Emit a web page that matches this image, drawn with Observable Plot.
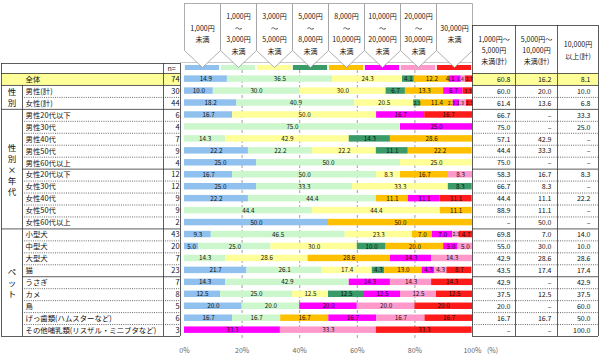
<!DOCTYPE html>
<html><head><meta charset="utf-8">
<script src="https://cdn.jsdelivr.net/npm/d3@7"></script>
<script src="https://cdn.jsdelivr.net/npm/@observablehq/plot@0.6"></script>
<style>
html,body{margin:0;padding:0;background:#fff;}
#chart{width:600px;height:363px;overflow:hidden;}
</style></head><body><div id="chart"></div>
<script>
// ---------- data ----------
const rows = ["全体","男性(計)","女性(計)","男性20代以下","男性30代","男性40代","男性50代","男性60代以上","女性20代以下","女性30代","女性40代","女性50代","女性60代以上","小型犬","中型犬","大型犬","猫","うさぎ","カメ","鳥","げっ歯類(ハムスターなど)","その他哺乳類(リスザル・ミニブタなど)"];
const nValues = [74,30,44,6,4,7,9,4,12,12,9,9,2,43,20,7,23,7,8,5,6,3];
const categories = ["1,000円未満","1,000円～3,000円未満","3,000円～5,000円未満","5,000円～8,000円未満","8,000円～10,000円未満","10,000円～20,000円未満","20,000円～30,000円未満","30,000円以上"];
const headerLabels = ["1,000円\n未満","1,000円\n～\n3,000円\n未満","3,000円\n～\n5,000円\n未満","5,000円\n～\n8,000円\n未満","8,000円\n～\n10,000円\n未満","10,000円\n～\n20,000円\n未満","20,000円\n～\n30,000円\n未満","30,000円\n未満"];
const colors = ["#8fc0ee","#ccf7cc","#ffff99","#3a9a68","#ffc000","#ff00ff","#ff99cc","#ff1a1a"];
const s0 = [14.9,10.0,18.2,16.7,0,0,22.2,25.0,16.7,25.0,22.2,0,50.0,9.3,5.0,0,21.7,14.3,12.5,20.0,16.7,0];
const s1 = [36.5,30.0,40.9,0,75.0,14.3,22.2,50.0,50.0,33.3,44.4,44.4,0,46.5,25.0,14.3,26.1,42.9,25.0,20.0,16.7,0];
const s2 = [24.3,30.0,20.5,50.0,0,42.9,22.2,25.0,8.3,33.3,0,44.4,0,23.3,30.0,28.6,17.4,0,12.5,0,0,0];
const s3 = [4.1,6.7,2.3,0,0,14.3,11.1,0,0,8.3,0,0,0,0,10.0,0,4.3,0,12.5,0,0,0];
const s4 = [12.2,13.3,11.4,0,0,28.6,22.2,0,16.7,0,11.1,11.1,50.0,7.0,20.0,28.6,13.0,0,0,0,16.7,0];
const s5 = [4.1,6.7,2.3,16.7,25.0,0,0,0,0,0,11.1,0,0,7.0,5.0,14.3,4.3,14.3,12.5,20.0,16.7,33.3];
const s6 = [1.4,0,2.3,0,0,0,0,0,8.3,0,0,0,0,2.3,5.0,14.3,4.3,14.3,12.5,20.0,16.7,33.3];
const s7 = [2.7,3.3,2.3,16.7,0,0,0,0,0,0,11.1,0,0,4.7,0,0,8.7,14.3,12.5,20.0,16.7,33.3];
const sumHeaders = ["1,000円～\n5,000円\n未満(計)","5,000円～\n10,000円\n未満(計)","10,000円\n以上(計)"];
const sum1 = [60.8,60.0,61.4,66.7,75.0,57.1,44.4,75.0,58.3,66.7,44.4,88.9,null,69.8,55.0,42.9,43.5,42.9,37.5,20.0,16.7,null];
const sum2 = [16.2,20.0,13.6,null,null,42.9,33.3,null,16.7,8.3,11.1,11.1,50.0,7.0,30.0,28.6,17.4,null,12.5,null,16.7,null];
const sum3 = [8.1,10.0,6.8,33.3,25.0,null,null,null,8.3,null,22.2,null,null,14.0,10.0,28.6,17.4,42.9,37.5,60.0,50.0,100.0];
const groupLabels = ["性別","性別×年代","ペット"];
const groupFrom = [1,3,13];
const groupTo = [3,13,22];
const axisTicks = [0,20,40,60,80,100];

// ---------- layout ----------
const W = 600, H = 363;
const X0 = 184, X1 = 472, Y0 = 73, Y1 = 336;
const NR = rows.length;
const STEP = (Y1 - Y0) / NR;
const KX = (X1 - X0) / 100;
const px = p => (p - X0) / KX;
const py = p => (p - Y0) / STEP;
const FONT = "'Noto Sans CJK JP', 'Noto Sans', sans-serif";

const series = [s0,s1,s2,s3,s4,s5,s6,s7];
const segs = [];
rows.forEach((r, i) => {
  let acc = 0;
  series.forEach((s, k) => {
    const v = s[i];
    if (v > 0) segs.push({i, cat: categories[k], v, x1: acc, x2: acc + v});
    acc += v;
  });
});

// label sizing + simple dodge so crowded labels don't collide
const CW = 0.56, FS = 6.3, FSS = 5;
segs.forEach(d => {
  d.t = d.v.toFixed(1);
  const segPx = (d.x2 - d.x1) * KX;
  d.fs = segPx < d.t.length * CW * FS ? FSS : FS;
  d.w = d.t.length * CW * d.fs;
  d.cx = X0 + (d.x1 + d.x2) / 2 * KX;
});
d3.groups(segs, d => d.i).forEach(([i, g]) => {
  for (let k = 1; k < g.length; k++) {
    const min = g[k - 1].cx + (g[k - 1].w + g[k].w) / 2 + 0.6;
    if (g[k].cx < min) g[k].cx = min;
  }
  const last = g[g.length - 1];
  const maxR = X1 + 1 - last.w / 2;
  if (last.cx > maxR) last.cx = maxR;
  for (let k = g.length - 2; k >= 0; k--) {
    const max = g[k + 1].cx - (g[k].w + g[k + 1].w) / 2 - 0.6;
    if (g[k].cx > max) g[k].cx = max;
  }
});

const arrowPts = categories.flatMap((c, k) => {
  const a = k * 12.5, b = a + 12.5, m = a + 6.25;
  return [[a, py(3)], [a, py(50)], [m, py(67)], [b, py(50)], [b, py(3)], [a, py(3)]]
    .map(([x, y]) => ({c, x, y}));
});

const bounds = d3.range(0, NR + 1);
const solidB = [0,1,3,8,13,17,22];
const fullB = [0,1,3,13,22];
const dash = "1,1.2";

const plot = Plot.plot({
  width: W, height: H,
  style: {fontFamily: FONT, background: "#fff", overflow: "visible"},
  x: {domain: [0, 100], range: [X0, X1], axis: null},
  y: {domain: [0, NR], range: [Y0, Y1], axis: null},
  color: {domain: categories, range: colors},
  marks: [
    // 全体 highlight
    Plot.rect([0], {x1: px(1), x2: px(180), y1: 0, y2: 1, fill: "#ffff99"}),
    Plot.rect([0], {x1: px(472), x2: px(598), y1: 0, y2: 1, fill: "#ffff99"}),
    // header baseline
    Plot.ruleY([py(62)], {y: d => d, x1: px(180), x2: px(472), stroke: "#bbb", strokeWidth: 0.8}),
    // gridlines
    Plot.ruleX([20,40,60,80], {x: d => d, y1: py(70), y2: py(340), stroke: "#888", strokeWidth: 0.8, strokeDasharray: "3,2"}),
    // swatches
    Plot.rect(categories, {x1: (d, k) => k * 12.5 + 0.3, x2: (d, k) => (k + 1) * 12.5 - 0.3, y1: py(65), y2: py(70), fill: d => d}),
    // arrows
    Plot.line(arrowPts, {x: "x", y: "y", z: "c", fill: "white", stroke: "#999", strokeWidth: 0.8, strokeLinejoin: "miter"}),
    Plot.text(categories, {x: (d, k) => k * 12.5 + 6.25, y: py(32.5), text: (d, k) => headerLabels[k], fontSize: 7, lineHeight: 1.65, fill: "#111"}),
    // bars
    Plot.rect(segs, {x1: "x1", x2: "x2", y1: d => d.i + 0.2, y2: d => d.i + 0.74, fill: "cat"}),
    Plot.text(segs, {x: d => px(d.cx), y: d => d.i + 0.47, text: "t", fontSize: "fs", fill: "#111"}),
    // x axis labels
    Plot.text(axisTicks, {x: d => d, y: py(350), text: d => d + "%", fontSize: 7, fill: "#666"}),
    Plot.text(["(%)"], {x: px(492), y: py(350), text: d => d, fontSize: 7, fill: "#666"}),
    // left table lines
    Plot.ruleY(bounds.filter(b => solidB.includes(b)), {y: d => d, x1: d => px(fullB.includes(d) ? 1 : 22), x2: px(180), stroke: "#333", strokeWidth: 0.8}),
    Plot.ruleY(bounds.filter(b => !solidB.includes(b)), {y: d => d, x1: px(22), x2: px(180), stroke: "#444", strokeWidth: 0.8, strokeDasharray: dash}),
    Plot.ruleY([py(63)], {y: d => d, x1: px(1), x2: px(180), stroke: "#333", strokeWidth: 0.8}),
    Plot.ruleX([1, 163, 180], {x: d => px(d), y1: py(63), y2: NR, stroke: "#333", strokeWidth: 0.8}),
    Plot.ruleX([22], {x: d => px(d), y1: 1, y2: NR, stroke: "#333", strokeWidth: 0.8}),
    // left table text
    Plot.text(["n="], {x: px(171), y: py(68.5), text: d => d, fontSize: 7, fill: "#111"}),
    Plot.text(rows, {x: px(25), y: (d, i) => i + 0.5, text: d => d, textAnchor: "start", fontSize: 7.4, fill: "#111"}),
    Plot.text(nValues, {x: px(179), y: (d, i) => i + 0.5, text: d => String(d), textAnchor: "end", fontSize: 7.4, fill: "#111"}),
    Plot.text(groupLabels, {x: px(11.5), y: (d, g) => (groupFrom[g] + groupTo[g]) / 2, text: d => d.split("").join("\n"), fontSize: 8.5, lineHeight: 1.3, fill: "#111"}),
    // right table lines
    Plot.ruleY(bounds.filter(b => solidB.includes(b)), {y: d => d, x1: px(472), x2: px(598), stroke: "#333", strokeWidth: 0.8}),
    Plot.ruleY(bounds.filter(b => !solidB.includes(b)), {y: d => d, x1: px(472), x2: px(598), stroke: "#444", strokeWidth: 0.8, strokeDasharray: dash}),
    Plot.ruleY([py(25)], {y: d => d, x1: px(472), x2: px(598), stroke: "#333", strokeWidth: 0.8}),
    Plot.ruleX([472, 515, 557, 598], {x: d => px(d), y1: py(25), y2: NR, stroke: "#333", strokeWidth: 0.8}),
    // right table text
    Plot.text(sumHeaders, {x: (d, k) => px([493.5, 536, 577.5][k]), y: py(49), text: d => d, fontSize: 7, lineHeight: 1.6, fill: "#111"}),
    Plot.text(sum1, {x: px(510), y: (d, i) => i + 0.5, text: d => d == null ? "–" : d.toFixed(1), textAnchor: "end", fontSize: 7, fill: "#111"}),
    Plot.text(sum2, {x: px(551), y: (d, i) => i + 0.5, text: d => d == null ? "–" : d.toFixed(1), textAnchor: "end", fontSize: 7, fill: "#111"}),
    Plot.text(sum3, {x: px(590), y: (d, i) => i + 0.5, text: d => d == null ? "–" : d.toFixed(1), textAnchor: "end", fontSize: 7, fill: "#111"})
  ]
});
document.getElementById("chart").appendChild(plot);
</script>
</body></html>
